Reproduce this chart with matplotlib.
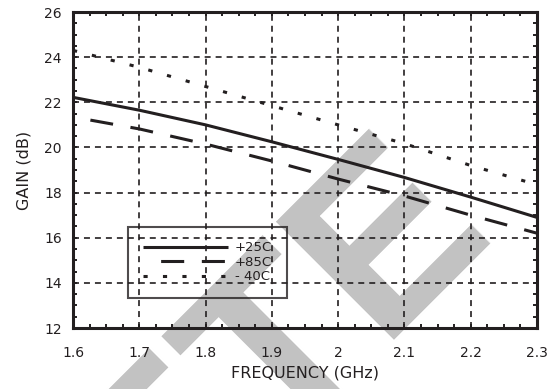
"""Gain vs frequency over temperature, redrawn from the datasheet figure."""

import matplotlib

matplotlib.use("Agg")
import matplotlib.pyplot as plt
from matplotlib.ticker import FixedLocator, MultipleLocator

plt.rcParams["font.family"] = ["DejaVu Sans"]
plt.rcParams["lines.scale_dashes"] = False

# values
freq_ghz = [1.6, 1.7, 1.8, 1.9, 2.0, 2.1, 2.2, 2.3]
gain_25c = [22.22, 21.65, 21.0, 20.25, 19.47, 18.67, 17.8, 16.9]
gain_85c = [21.35, 20.82, 20.15, 19.4, 18.6, 17.85, 17.0, 16.2]
gain_m40c = [24.3, 23.55, 22.7, 21.85, 21.0, 20.17, 19.2, 18.35]
series_labels = ["+25C", "+85C", "- 40C"]

xtick_values = [1.6, 1.7, 1.8, 1.9, 2.0, 2.1, 2.2, 2.3]
xtick_labels = ["1.6", "1.7", "1.8", "1.9", "2", "2.1", "2.2", "2.3"]
ytick_values = [12, 14, 16, 18, 20, 22, 24, 26]

INK = "#231f20"

fig = plt.figure(figsize=(5.54, 3.89), dpi=100)
ax = fig.add_axes([0.1318, 0.1568, 0.8375, 0.8123])
ax.set_facecolor("none")

# grey watermark sits behind the axes
fig.text(0.8935, 0.4113, "OBSOLETE", family="Liberation Sans",
         fontsize=175, fontweight="bold", color="#c2c2c2", rotation=45,
         rotation_mode="anchor", ha="right", va="baseline", zorder=-5)

ax.plot(freq_ghz, gain_25c, color=INK, lw=2.2, solid_capstyle="butt",
        label=series_labels[0])
ax.plot(freq_ghz, gain_85c, color=INK, lw=2.2, dash_capstyle="butt",
        linestyle=(16.6, (16.6, 12.7)), label=series_labels[1])
ax.plot(freq_ghz, gain_m40c, color=INK, lw=2.2, dash_capstyle="butt",
        linestyle=(0, (3.0, 11.0)), label=series_labels[2])

ax.set_xlim(1.6, 2.3)
ax.set_ylim(12, 26)
ax.xaxis.set_major_locator(FixedLocator(xtick_values))
ax.set_xticklabels(xtick_labels)
ax.yaxis.set_major_locator(FixedLocator(ytick_values))
ax.xaxis.set_minor_locator(MultipleLocator(0.025))
ax.yaxis.set_minor_locator(MultipleLocator(0.5))

ax.grid(True, which="major", color=INK, lw=1.2, linestyle=(0, (4.3, 3.6)))
ax.tick_params(which="both", direction="in", top=True, right=True,
               length=3, width=1.4, color=INK)
ax.tick_params(axis="x", which="major", pad=13, labelsize=10, labelcolor=INK)
ax.tick_params(axis="y", which="major", pad=8, labelsize=10, labelcolor=INK)
for spine in ax.spines.values():
    spine.set_linewidth(2.2)
    spine.set_color(INK)

ax.set_xlabel("FREQUENCY (GHz)", fontsize=11.5, color=INK, labelpad=4)
ax.set_ylabel("GAIN (dB)", fontsize=11.5, color=INK, labelpad=9)

leg = ax.legend(loc="lower left", bbox_to_anchor=(0.1185, 0.095),
                borderaxespad=0, fontsize=9.5, handlelength=6.5,
                handletextpad=0.5, borderpad=1.1, labelspacing=0.12,
                fancybox=False, frameon=True)
frame = leg.get_frame()
frame.set_facecolor("none")
frame.set_edgecolor(INK)
frame.set_linewidth(1.5)
for txt in leg.get_texts():
    txt.set_color(INK)

fig.savefig("out.png", dpi=100)
